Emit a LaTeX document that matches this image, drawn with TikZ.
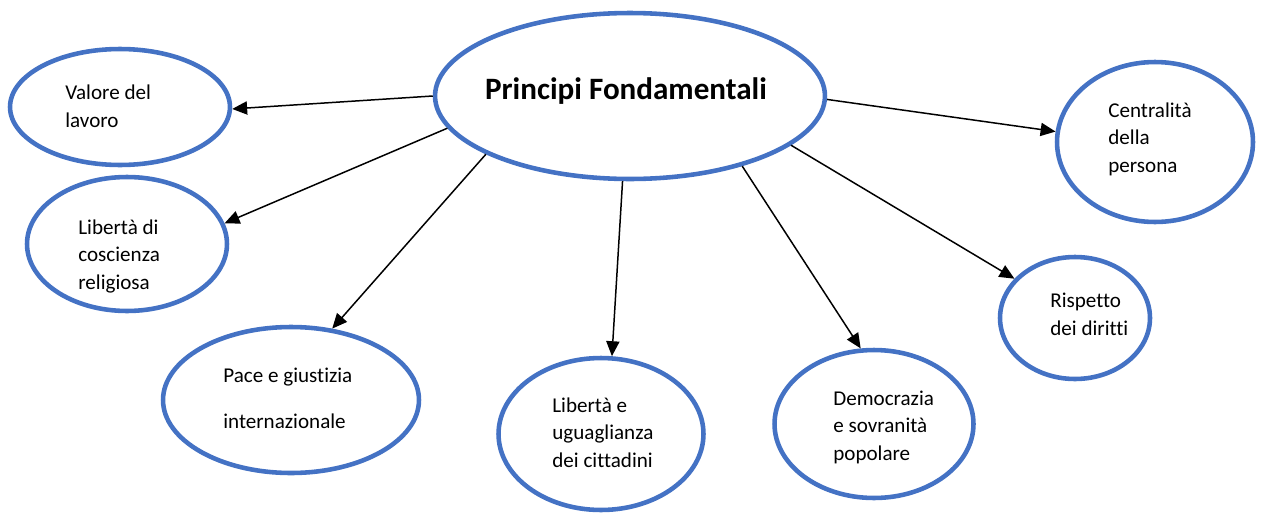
\documentclass[tikz,border=0pt]{standalone}
\usepackage{fontspec}
\setmainfont{Carlito}[Ligatures=NoCommon]
\usetikzlibrary{shapes.geometric,arrows.meta}
\definecolor{bordo}{HTML}{4472C4}

\begin{document}
\begin{tikzpicture}[
  x=0.02cm,
  y=-0.02cm,
  bolla/.style={draw=bordo, line width=2.6pt, ellipse, inner sep=0pt},
  testo/.style={anchor=base west, inner sep=0pt, align=left, font={\fontsize{12}{15.4}\selectfont}},
  titolo/.style={anchor=base, inner sep=0pt, font={\fontsize{17.7}{21}\selectfont\bfseries}},
  freccia/.style={line width=0.85pt, -{Triangle[length=8.5pt,width=7.5pt]}}
]
  \useasboundingbox (0,0) rectangle (1261,514);

  % ellissi
  \node[bolla, minimum width=7.8cm, minimum height=3.32cm] (main) at (630,96) {};
  \node[bolla, minimum width=4.4cm, minimum height=2.32cm] (valore) at (120,107) {};
  \node[bolla, minimum width=4.0cm, minimum height=2.68cm] (coscienza) at (127,244) {};
  \node[bolla, minimum width=5.12cm, minimum height=2.92cm] (pace) at (291,400) {};
  \node[bolla, minimum width=4.1cm, minimum height=3.04cm] (uguaglianza) at (601,434) {};
  \node[bolla, minimum width=3.98cm, minimum height=2.96cm] (democrazia) at (874,424) {};
  \node[bolla, minimum width=3.0cm, minimum height=2.44cm] (rispetto) at (1075,318) {};
  \node[bolla, minimum width=3.92cm, minimum height=3.2cm] (centralita) at (1155,142) {};

  % testi (base = ultima riga)
  \node[titolo] (t-main) at (626,99) {Principi Fondamentali};
  \node[testo] (t-valore) at (65,127) {Valore del\\lavoro};
  \node[testo] (t-coscienza) at (78,289) {Libertà di\\coscienza\\religiosa};
  \node[testo] (t-pace) at (223,428) {Pace e giustizia\\[0.36cm]internazionale};
  \node[testo] (t-uguaglianza) at (552,467) {Libertà e\\uguaglianza\\dei cittadini};
  \node[testo] (t-democrazia) at (833,460) {Democrazia\\e sovranità\\popolare};
  \node[testo] (t-rispetto) at (1050,335) {Rispetto\\dei diritti};
  \node[testo] (t-centralita) at (1108,172) {Centralità\\della\\persona};

  % frecce
  \draw[freccia] (main.180) -- (valore.-1);
  \draw[freccia] (main.190) -- (coscienza.12);
  \draw[freccia] (main.202) -- (pace.60);
  \draw[freccia] (main.265) -- (uguaglianza.82);
  \draw[freccia] (main.-32) -- (democrazia.100);
  \draw[freccia] (main.-17) -- (rispetto.147);
  \draw[freccia] (main.-1) -- (centralita.174);
\end{tikzpicture}
\end{document}
